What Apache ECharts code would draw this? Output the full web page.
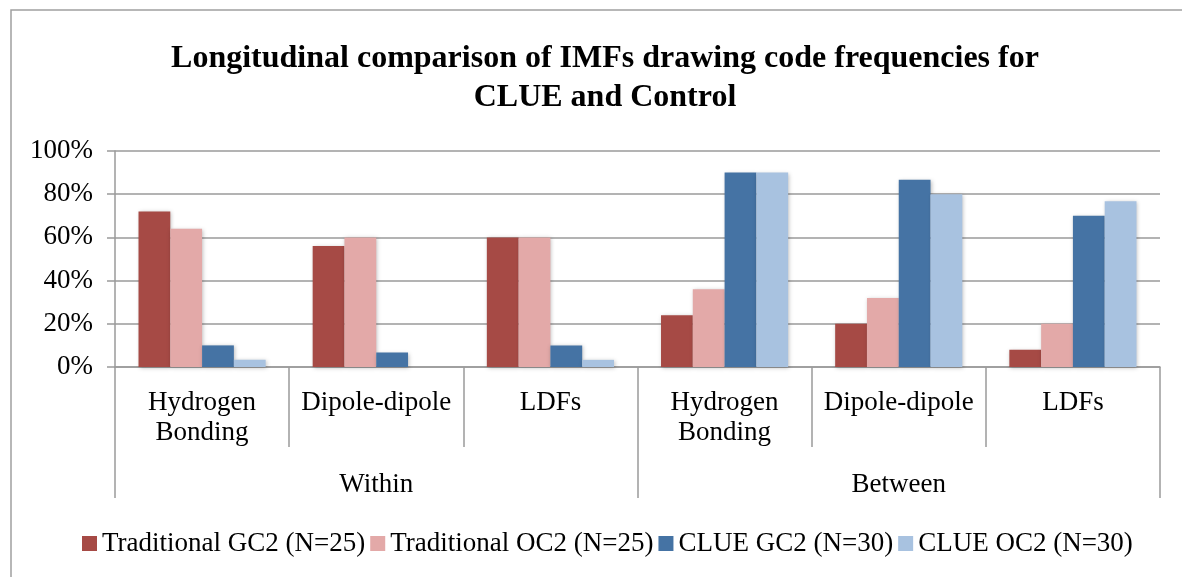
<!DOCTYPE html>
<html>
<head>
<meta charset="utf-8">
<script src="https://cdn.jsdelivr.net/npm/echarts@6/dist/echarts.min.js"></script>
<style>
html, body { margin: 0; padding: 0; background: #fff; }
#chart { width: 1182px; height: 577px; }
</style>
</head>
<body>
<div id="chart"></div>
<script>
// categories (two levels)
const subCategories = ['Hydrogen\nBonding', 'Dipole-dipole', 'LDFs', 'Hydrogen\nBonding', 'Dipole-dipole', 'LDFs']
const groups = ['Within', 'Between']
const seriesNames = ['Traditional GC2 (N=25)', 'Traditional OC2 (N=25)', 'CLUE GC2 (N=30)', 'CLUE OC2 (N=30)']
// values as fractions
const tradGC2 = [0.72, 0.56, 0.60, 0.24, 0.20, 0.08]
const tradOC2 = [0.64, 0.60, 0.60, 0.36, 0.32, 0.20]
const clueGC2 = [0.10, 0.067, 0.10, 0.90, 0.867, 0.70]
const clueOC2 = [0.033, 0, 0.033, 0.90, 0.80, 0.767]
const colors = ['#A64A45', '#E3A9A8', '#4573A4', '#A8C2E0']

const font = 'Liberation Serif'
const gray = '#9a9a9a'
const chart = echarts.init(document.getElementById('chart'))

const allData = [tradGC2, tradOC2, clueGC2, clueOC2]
const series = allData.map(function (d, i) {
  return {
    name: seriesNames[i],
    type: 'bar',
    xAxisIndex: 0,
    data: d,
    barGap: '0%',
    barCategoryGap: '27%',
    itemStyle: {
      color: colors[i],
      shadowColor: 'rgba(0,0,0,0.25)',
      shadowBlur: 4,
      shadowOffsetX: 1,
      shadowOffsetY: 1
    }
  }
})

chart.setOption({
  animation: false,
  color: colors,
  graphic: [{
    type: 'rect',
    shape: { x: 11, y: 10, width: 1200, height: 600 },
    style: { fill: 'none', stroke: '#a0a0a0', lineWidth: 1.5 },
    silent: true,
    z: -1
  }],
  title: {
    text: 'Longitudinal comparison of IMFs drawing code frequencies for\nCLUE and Control',
    left: 605,
    top: 39,
    padding: 0,
    textAlign: 'center',
    textStyle: {
      fontFamily: font,
      fontWeight: 'bold',
      fontSize: 32,
      lineHeight: 39,
      color: '#000'
    }
  },
  legend: {
    data: seriesNames,
    left: 77,
    top: 525,
    icon: 'rect',
    itemWidth: 15,
    itemHeight: 15,
    itemGap: 5,
    textStyle: { fontFamily: font, fontSize: 27, color: '#000' }
  },
  grid: { left: 115, right: 22, top: 151, bottom: 210, containLabel: false },
  xAxis: [
    {
      type: 'category',
      data: subCategories,
      position: 'bottom',
      axisLine: { show: true, lineStyle: { color: gray, width: 1.5 } },
      axisTick: { show: true, interval: 0, length: 80, lineStyle: { color: gray, width: 1.5 } },
      axisLabel: { interval: 0, margin: 21, fontFamily: font, fontSize: 27, lineHeight: 30, color: '#000' },
      splitLine: { show: false }
    },
    {
      type: 'category',
      data: groups,
      position: 'bottom',
      axisLine: { show: false },
      axisTick: { show: true, interval: 0, length: 131, lineStyle: { color: gray, width: 1.5 } },
      axisLabel: { interval: 0, margin: 103, fontFamily: font, fontSize: 27, lineHeight: 30, color: '#000' },
      splitLine: { show: false }
    }
  ],
  yAxis: {
    type: 'value',
    min: 0,
    max: 1,
    interval: 0.2,
    axisLine: { show: true, lineStyle: { color: gray, width: 1.5 } },
    axisTick: { show: true, length: 8, lineStyle: { color: gray, width: 1.5 } },
    axisLabel: {
      margin: 22,
      fontFamily: font,
      fontSize: 27,
      color: '#000',
      formatter: function (v) { return Math.round(v * 100) + '%' }
    },
    splitLine: { show: true, lineStyle: { color: gray, width: 1.5 } }
  },
  series: series
})
</script>
</body>
</html>
